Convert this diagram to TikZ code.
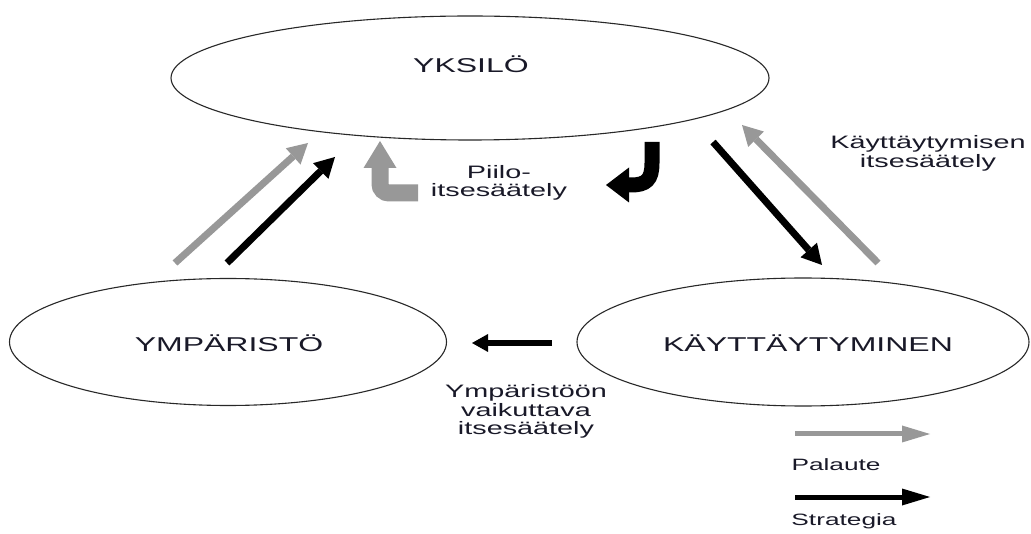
\documentclass[tikz,border=0pt]{standalone}
\usepackage{fontspec}
\setmainfont{Liberation Sans}[FakeStretch=1.6]
\usetikzlibrary{arrows.meta,shapes.geometric}
\definecolor{fbgray}{RGB}{152,152,152}
\definecolor{inkline}{RGB}{40,40,40}
\definecolor{inktext}{RGB}{25,25,40}

\tikzset{
  area/.style={ellipse, draw=inkline, line width=1.1pt, inner sep=0pt, fill=none},
  bigtext/.style={text=inktext, font=\fontsize{20}{24}\selectfont, anchor=base, inner sep=0pt},
  smalltext/.style={text=inktext, font=\fontsize{18}{18.5}\selectfont, align=center, inner sep=0pt},
  legendtext/.style={text=inktext, font=\fontsize{16.4}{19}\selectfont, anchor=base, inner sep=0pt},
  strategy/.style={draw=black, line width=7pt,
    -{Triangle[length=20pt, width=22pt, line width=0pt]}},
  feedback/.style={draw=fbgray, line width=7pt,
    -{Triangle[length=20pt, width=22pt, line width=0pt]}},
  flatarrow/.style={line width=5.5pt,
    -{Triangle[length=16pt, width=18pt, line width=0pt]}},
  keyarrow/.style={line width=5pt,
    -{Triangle[length=28pt, width=17pt, line width=0pt]}},
}

\begin{document}
\begin{tikzpicture}[x=1pt, y=-1pt]
  \useasboundingbox (0,0) rectangle (1031,534);
  \clip (0,0) rectangle (1031,534);
  \fill[white] (0,0) rectangle (1031,534);

  % the three areas
  \node[area, minimum width=598pt, minimum height=124pt] (yksilo) at (470,78) {};
  \node[area, minimum width=437pt, minimum height=127pt] (ymparisto) at (228,342) {};
  \node[area, minimum width=452pt, minimum height=128pt] (kaytt) at (803,342) {};

  \node[bigtext] (tyksilo) at (471,73) {YKSILÖ};
  \node[bigtext] (tymparisto) at (229,352) {YMPÄRISTÖ};
  \node[bigtext] (tkaytt) at (808,352) {KÄYTTÄYTYMINEN};

  % arrow end points
  \coordinate (lgA) at (175,263);  \coordinate (lgB) at (308,143);
  \coordinate (lbA) at (227,263);  \coordinate (lbB) at (335,157);
  \coordinate (rbA) at (713,142);  \coordinate (rbB) at (822,265);
  \coordinate (rgA) at (878,263);  \coordinate (rgB) at (742,125);
  \coordinate (hA) at (552,343);   \coordinate (hB) at (472,343);

  % environment <-> individual
  \draw[feedback] (lgA) -- (lgB);
  \draw[strategy] (lbA) -- (lbB);
  % individual <-> behaviour
  \draw[strategy] (rbA) -- (rbB);
  \draw[feedback] (rgA) -- (rgB);
  % behaviour -> environment
  \draw[flatarrow, draw=black] (hA) -- (hB);

  % hidden self-regulation: two hooked block arrows
  \coordinate (ghA) at (418,193);
  \coordinate (ghC) at (380,193);
  \coordinate (ghB) at (380,141);
  \draw[draw=fbgray, line width=17pt, rounded corners=9pt,
        -{Triangle[length=27pt, width=33pt, line width=0pt]}]
        (ghA) -- (ghC) -- (ghB);

  \coordinate (bhA) at (652,142);
  \coordinate (bhB) at (606,185);
  \draw[draw=black, line width=15pt,
        -{Triangle[length=23pt, width=35pt, line width=0pt]}]
        (bhA) -- (652,163) .. controls (652,180) and (646,185) .. (631,185) -- (bhB);

  % labels
  \node[smalltext] (piilo) at (499,183) {Piilo-\\itsesäätely};
  \node[smalltext] (kayttlab) at (928,153.5) {Käyttäytymisen\\itsesäätely};
  \node[smalltext] (ymplab) at (526,411.5) {Ympäristöön\\vaikuttava\\itsesäätely};

  % legend
  \coordinate (kgA) at (795,434); \coordinate (kgB) at (930,434);
  \coordinate (kbA) at (795,497); \coordinate (kbB) at (930,497);
  \draw[keyarrow, draw=fbgray] (kgA) -- (kgB);
  \draw[keyarrow, draw=black] (kbA) -- (kbB);
  \node[legendtext] (palaute) at (836,470) {Palaute};
  \node[legendtext] (strategia) at (844,525) {Strategia};
\end{tikzpicture}
\end{document}
